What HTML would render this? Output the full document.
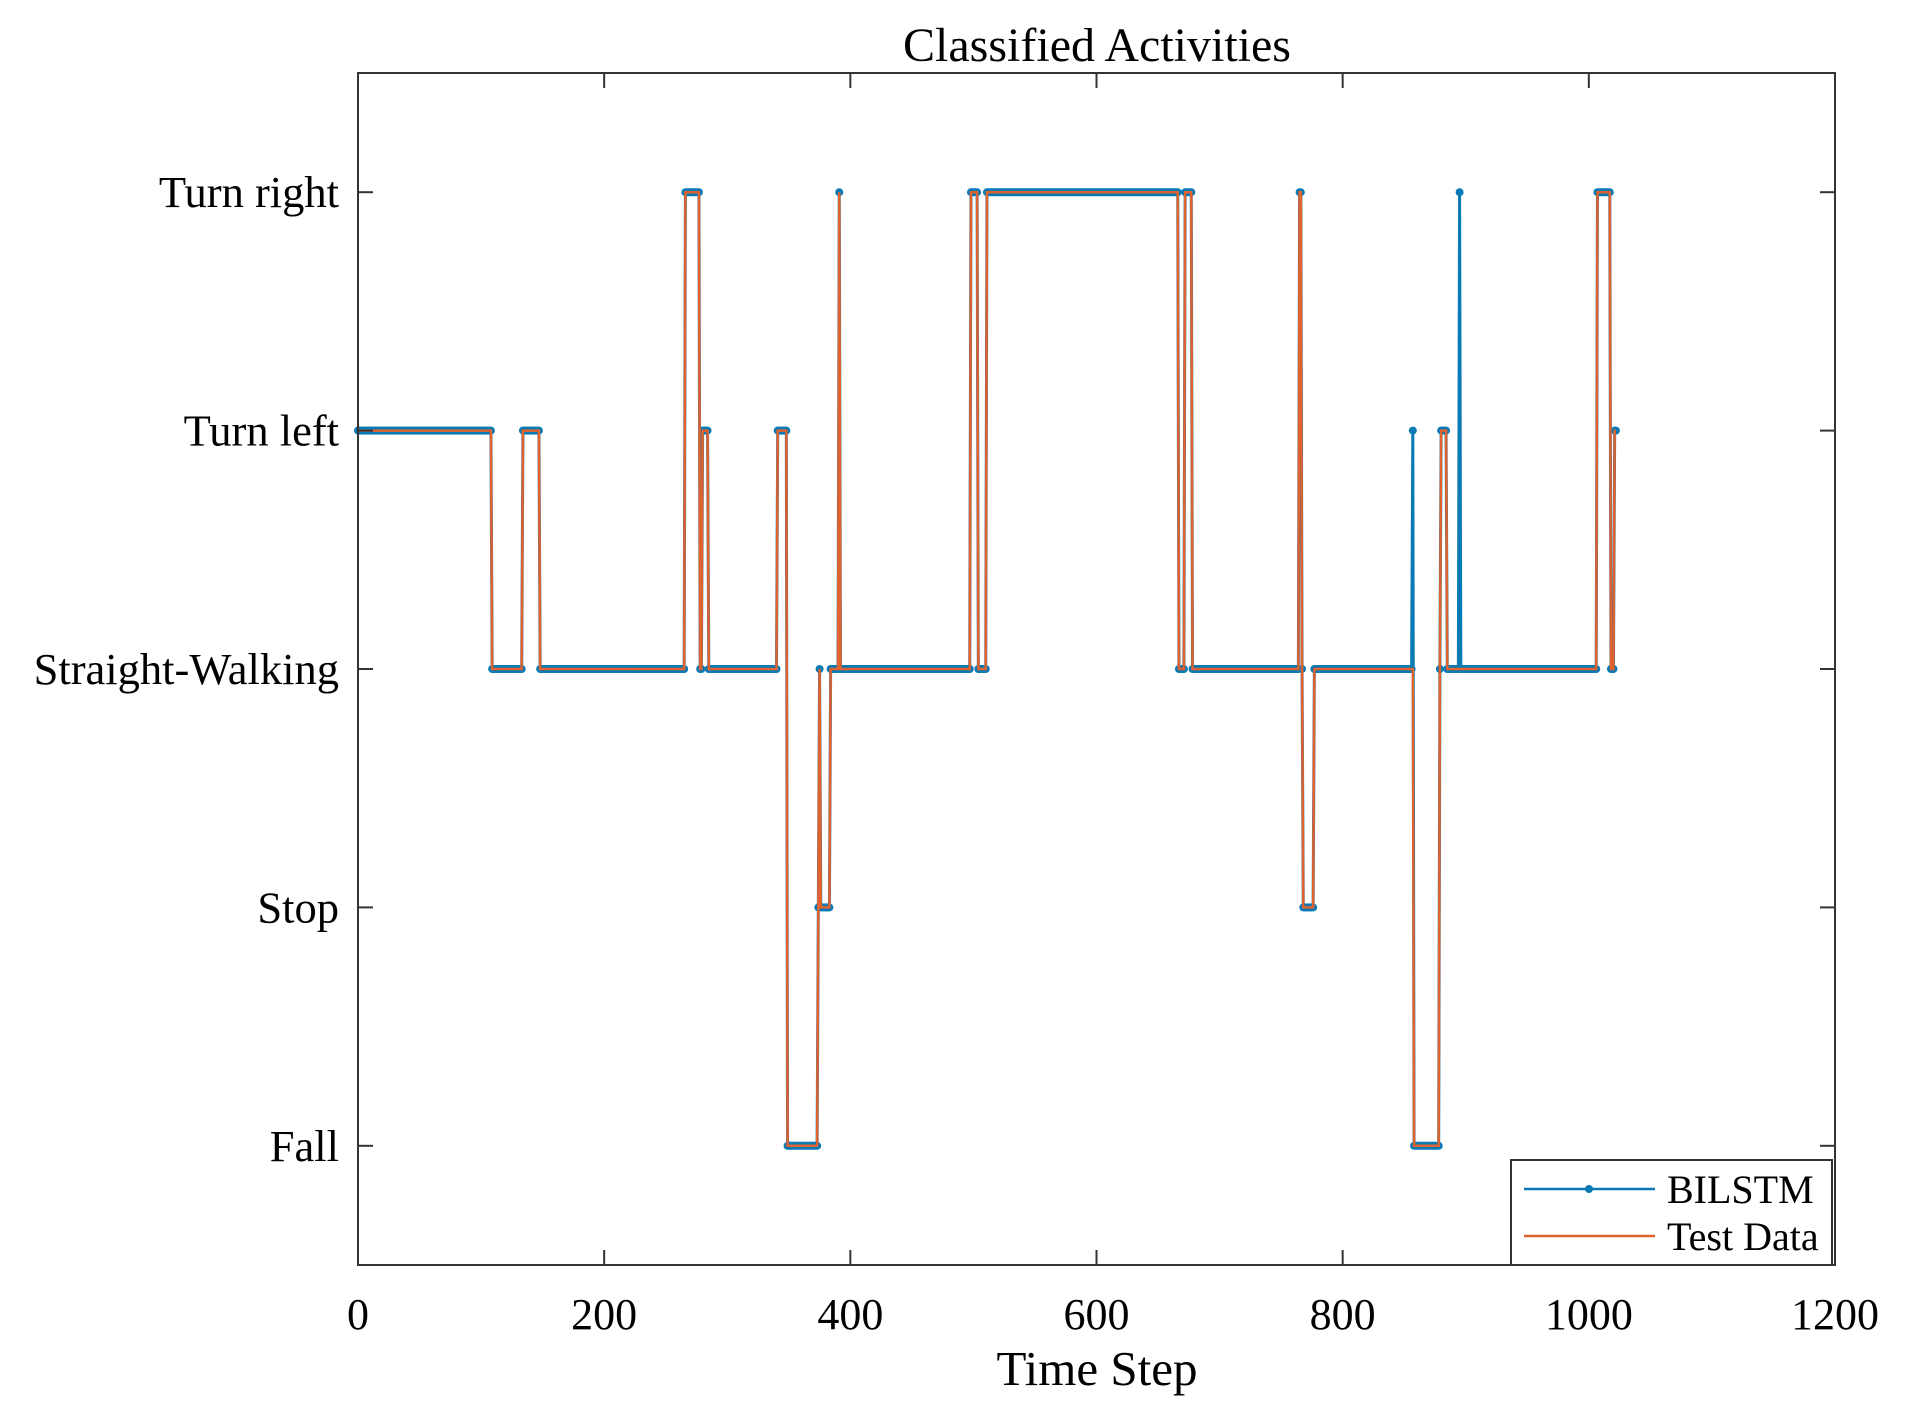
<!DOCTYPE html>
<html><head><meta charset="utf-8"><style>
html,body{margin:0;padding:0;background:#fff;}
svg{display:block;font-family:"Liberation Serif",serif;}
</style></head><body>
<svg id="chart" width="1912" height="1414" viewBox="0 0 1912 1414">
<text x="1097" y="61" font-size="48" text-anchor="middle" fill="#000">Classified Activities</text>
<g id="plot"></g>
<rect x="358" y="73" width="1477" height="1192" fill="none" stroke="#333" stroke-width="2"/>
<g id="axes"></g>
<text x="1097" y="1385" font-size="49" text-anchor="middle" fill="#000">Time Step</text>
<g>
<rect x="1511" y="1160" width="321" height="105" fill="#fff" stroke="#333" stroke-width="2"/>
<line x1="1524" y1="1189" x2="1655" y2="1189" stroke="#0A7AB5" stroke-width="2.5"/>
<circle cx="1589" cy="1189" r="4" fill="#0A7AB5"/>
<text x="1667" y="1203" font-size="40" fill="#000">BILSTM</text>
<line x1="1524" y1="1236" x2="1655" y2="1236" stroke="#E0622E" stroke-width="2.5"/>
<text x="1667" y="1250" font-size="40" fill="#000">Test Data</text>
</g>
</svg>
<script>
const yCategories = ["Fall","Stop","Straight-Walking","Turn left","Turn right"];
const xTicks = [0,200,400,600,800,1000,1200];
const testStarts = [0,109,134,148,266,278,280,285,341,349,374,375,376,384,391,392,498,504,511,667,672,678,765,767,768,777,858,879,880,885,1007,1018,1021];
const testLabels = [4,3,4,3,5,3,4,3,4,1,2,3,2,3,5,3,5,3,5,3,5,3,5,3,2,3,1,3,4,3,5,3,4];
const predStarts = [0,109,134,148,266,278,280,285,341,349,374,375,376,384,391,392,498,504,511,667,672,678,765,767,768,777,857,858,879,880,885,895,896,1007,1018,1021];
const predLabels = [4,3,4,3,5,3,4,3,4,1,2,3,2,3,5,3,5,3,5,3,5,3,5,3,2,3,4,1,3,4,3,5,3,5,3,4];
const lastStep = 1022;

const X0=358,X1=1835,Y0=73,Y1=1265;
const xs = v => X0 + (v-0)/(1200-0)*(X1-X0);
const ys = v => Y1 - (v-0.5)/(5.5-0.5)*(Y1-Y0);
const NS="http://www.w3.org/2000/svg";
function expand(starts, labels){
  const out=[];
  for(let i=0;i<starts.length;i++){
    const end = i+1<starts.length ? starts[i+1] : lastStep+1;
    for(let t=starts[i];t<end;t++) out.push([t,labels[i]]);
  }
  return out;
}
const plot=document.getElementById('plot');
const axes=document.getElementById('axes');
const pred=expand(predStarts,predLabels), test=expand(testStarts,testLabels);
function line(pts,color,w,name){
  const p=document.createElementNS(NS,'polyline');
  p.setAttribute('points',pts.map(d=>xs(d[0]).toFixed(2)+','+ys(d[1]).toFixed(2)).join(' '));
  p.setAttribute('fill','none');p.setAttribute('stroke',color);p.setAttribute('stroke-width',w);
  
  
  plot.appendChild(p);
}
line(pred,'#0A7AB5',3,'bilstm-line');
const mg=document.createElementNS(NS,'g');


plot.appendChild(mg);
pred.forEach(d=>{
  const c=document.createElementNS(NS,'circle');
  c.setAttribute('cx',xs(d[0]).toFixed(2));c.setAttribute('cy',ys(d[1]).toFixed(2));
  c.setAttribute('r','4');c.setAttribute('fill','#0A7AB5');
  
  
  mg.appendChild(c);
});
line(test,'#E0622E',2.5,'test-data-line');

xTicks.forEach(v=>{
  const x=xs(v);
  [[Y1,Y1-15],[Y0,Y0+15]].forEach(a=>{
    const l=document.createElementNS(NS,'line');
    l.setAttribute('x1',x);l.setAttribute('x2',x);l.setAttribute('y1',a[0]);l.setAttribute('y2',a[1]);
    l.setAttribute('stroke','#333');l.setAttribute('stroke-width','2');
    
    
    axes.appendChild(l);
  });
  const t=document.createElementNS(NS,'text');
  t.setAttribute('x',x);t.setAttribute('y',1329);t.setAttribute('font-size','44');
  t.setAttribute('text-anchor','middle');t.textContent=v;
  
  
  axes.appendChild(t);
});
yCategories.forEach((name,i)=>{
  const y=ys(i+1);
  [[X0,X0+15],[X1,X1-15]].forEach(a=>{
    const l=document.createElementNS(NS,'line');
    l.setAttribute('x1',a[0]);l.setAttribute('x2',a[1]);l.setAttribute('y1',y);l.setAttribute('y2',y);
    l.setAttribute('stroke','#333');l.setAttribute('stroke-width','2');
    
    
    axes.appendChild(l);
  });
  const t=document.createElementNS(NS,'text');
  t.setAttribute('x',339);t.setAttribute('y',y+15);t.setAttribute('font-size','44.5');
  t.setAttribute('text-anchor','end');t.textContent=name;
  
  
  axes.appendChild(t);
});
</script>
</body></html>
